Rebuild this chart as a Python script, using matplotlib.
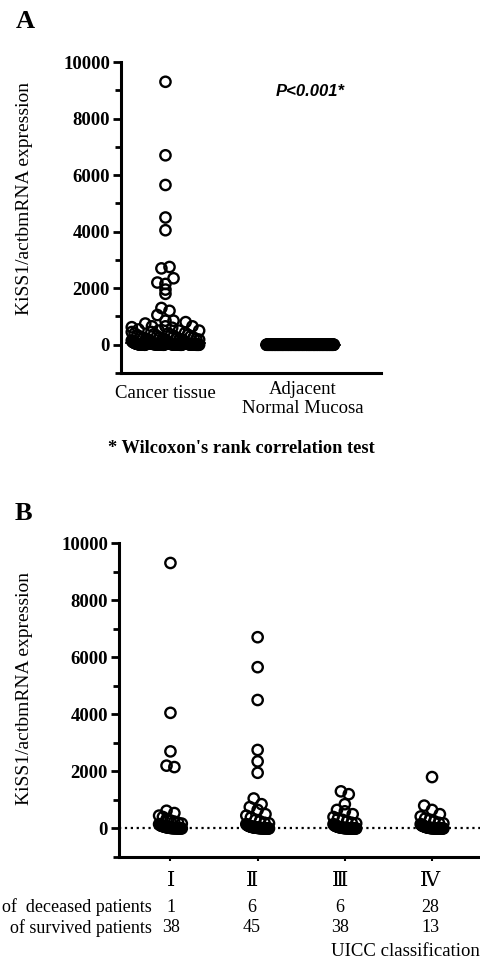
import numpy as np
import matplotlib
matplotlib.use('Agg')
from matplotlib import pyplot as plt

plt.rcParams['font.family'] = ['Liberation Serif', 'DejaVu Serif']

W, H = 480, 976

# KiSS1/actb mRNA expression per UICC stage
stage_1 = [9300, 4050, 2700, 2200, 2150, 620, 540, 450, 400, 330, 280, 240, 200,
           170, 150, 120, 100, 90, 80, 70, 60, 50, 40, 35, 30, 25, 20, 15, 12, 10,
           8, 6, 5, 4, 3, 2, 1, 0, 0]
stage_2 = [6700, 5650, 4500, 2750, 2350, 1950, 1050, 850, 750, 650, 500, 450, 380,
           300, 250, 200, 180, 150, 130, 110, 100, 90, 80, 70, 60, 55, 50, 45, 40,
           35, 30, 28, 25, 22, 20, 18, 15, 12, 10, 9, 8, 7, 6, 5, 4, 3, 2, 1, 1, 0, 0]
stage_3 = [1300, 1200, 850, 650, 600, 500, 400, 350, 300, 250, 200, 180, 150, 120,
           100, 90, 80, 70, 60, 50, 45, 40, 35, 30, 25, 20, 18, 15, 12, 10, 8, 7,
           6, 5, 4, 3, 2, 2, 1, 1, 0, 0, 0, 0]
stage_4 = [1800, 800, 650, 500, 420, 350, 300, 250, 200, 180, 150, 120, 100, 90,
           80, 70, 60, 50, 40, 35, 30, 25, 20, 15, 12, 10, 8, 6, 5, 4, 3, 2, 2, 1,
           1, 0, 0, 0, 0, 0, 0]

# adjacent normal mucosa: every value reads as ~0
normal_mucosa = [0, 1, 0, 2, 0, 1, 0, 0, 3, 0, 1, 0, 2, 0, 0, 1, 0, 0, 2, 0, 1, 0, 0, 1, 0,
                 0, 2, 0, 1, 0, 0, 1, 0, 3, 0, 0, 1, 0, 2, 0, 0, 1, 0, 0, 1, 0, 2, 0, 0, 1,
                 1, 0, 0, 2, 0, 1, 0, 0, 1, 0, 2, 0, 0, 1, 0, 0, 3, 0, 1, 0, 0, 2, 0, 1, 0,
                 0, 1, 0, 0, 2, 0, 1, 0, 0, 1, 0, 0, 2, 0, 1, 0, 3, 0, 0, 1, 0, 2, 0, 0, 1,
                 2, 0, 1, 0, 0, 1, 0, 2, 0, 0, 1, 0, 0, 1, 0, 2, 0, 0, 3, 0, 1, 0, 0, 1, 0,
                 0, 1, 0, 2, 0, 0, 1, 0, 0, 2, 0, 1, 0, 0, 1, 0, 3, 0, 1, 0, 0, 2, 0, 0, 1,
                 1, 0, 0, 2, 0, 1, 0, 0, 1, 0, 2, 0, 0, 1, 0, 0, 2, 0, 1, 0, 0, 1, 0, 0, 2]

stage_labels = ['Ⅰ', 'Ⅱ', 'Ⅲ', 'Ⅳ']
deceased = [1, 6, 6, 28]
survived = [38, 45, 38, 13]
group_labels = ['Cancer tissue', 'Adjacent\nNormal Mucosa']

cancer_tissue = stage_1 + stage_2 + stage_3 + stage_4


def fig_xy(x, y):
	return x / W, 1 - y / H


# Spread points sideways when they share a row (Prism style scatter)
def swarm(values, center, half_width, row_height, step):
	values = np.asarray(values, float)
	xs = np.full(len(values), float(center))
	rows = np.floor(values / row_height + 0.5).astype(int)
	for r in np.unique(rows):
		idx = np.where(rows == r)[0]
		n = len(idx)
		if n == 1:
			continue
		d = min(step, 2 * half_width / (n - 1))
		xs[idx] = center + (np.arange(n) - (n - 1) / 2) * d
	return values, xs


def style_axis(ax):
	for side in ['top', 'right']:
		ax.spines[side].set_visible(False)
	for side in ['left', 'bottom']:
		ax.spines[side].set_linewidth(2.2)
	ax.set_ylim(-1000, 10000)
	ax.set_yticks(np.arange(0, 10001, 2000))
	ax.set_yticks(np.arange(-1000, 10000, 2000), minor=True)
	ax.tick_params(axis='y', which='major', length=6, width=2, labelsize=13.5, pad=2)
	ax.tick_params(axis='y', which='minor', length=4, width=2)
	for lbl in ax.get_yticklabels():
		lbl.set_fontweight('bold')


fig = plt.figure(figsize=(W / 100, H / 100), dpi=100)

# Panel A
axA = fig.add_axes([121 / W, 1 - 373 / H, 260 / W, 311 / H])
style_axis(axA)
axA.set_xlim(0.67, 2.6)
axA.set_xticks([])
for pos, vals in zip([1, 2], [cancer_tissue, normal_mucosa]):
	v, x = swarm(vals, pos, 0.25, 330, 0.06)
	axA.scatter(x, v, s=55, facecolors='none', edgecolors='black', linewidths=1.7, zorder=3)
	axA.hlines(np.median(vals), pos - 0.3, pos + 0.3, colors='black', linestyles=':', linewidth=1.2, zorder=2)
axA.set_ylabel('KiSS1/actbmRNA expression', fontsize=14)
axA.yaxis.set_label_coords(-0.34, 0.56)

fig.text(*fig_xy(25, 22), 'A', fontsize=19, fontweight='bold', ha='center', va='center')
fig.text(*fig_xy(310, 92), 'P<0.001*', fontsize=12, fontweight='bold', style='italic',
	family='Liberation Sans', ha='center', va='center')
fig.text(*fig_xy(165, 393), group_labels[0], fontsize=13.5, ha='center', va='center')
fig.text(*fig_xy(303, 399), group_labels[1], fontsize=13.5, ha='center', va='center', linespacing=1.1)
fig.text(*fig_xy(241, 448), "* Wilcoxon's rank correlation test", fontsize=13.2, fontweight='bold',
	ha='center', va='center')

# Panel B
axB = fig.add_axes([119 / W, 1 - 857 / H, (W - 119) / W, 314 / H])
style_axis(axB)
axB.set_xlim(0.41, 4.55)
axB.set_xticks([1, 2, 3, 4])
axB.set_xticklabels([])
axB.tick_params(axis='x', length=3, width=1.5)
axB.axhline(0, color='black', linestyle=':', linewidth=1.6, zorder=1)
for pos, vals in enumerate([stage_1, stage_2, stage_3, stage_4], start=1):
	v, x = swarm(vals, pos, 0.13, 330, 0.09)
	axB.scatter(x, v, s=55, facecolors='none', edgecolors='black', linewidths=1.7, zorder=3)
axB.set_ylabel('KiSS1/actbmRNA expression', fontsize=14)
axB.yaxis.set_label_coords(-0.238, 0.538)

fig.text(*fig_xy(23, 514), 'B', fontsize=19, fontweight='bold', ha='center', va='center')

stage_x = [171, 252, 340, 430]
for i, sx in enumerate(stage_x):
	fig.text(*fig_xy(sx, 882), stage_labels[i], fontsize=15, ha='center', va='center',
		family=['Liberation Serif', 'DejaVu Serif', 'Noto Sans CJK JP'])
	fig.text(*fig_xy(sx, 907), str(deceased[i]), fontsize=13, ha='center', va='center')
	fig.text(*fig_xy(sx, 928), str(survived[i]), fontsize=13, ha='center', va='center')
fig.text(*fig_xy(152, 907), 'of  deceased patients', fontsize=13, ha='right', va='center')
fig.text(*fig_xy(152, 928), 'of survived patients', fontsize=13, ha='right', va='center')
fig.text(*fig_xy(405, 952), 'UICC classification', fontsize=13.5, ha='center', va='center')

fig.savefig('out.png', dpi=100)
